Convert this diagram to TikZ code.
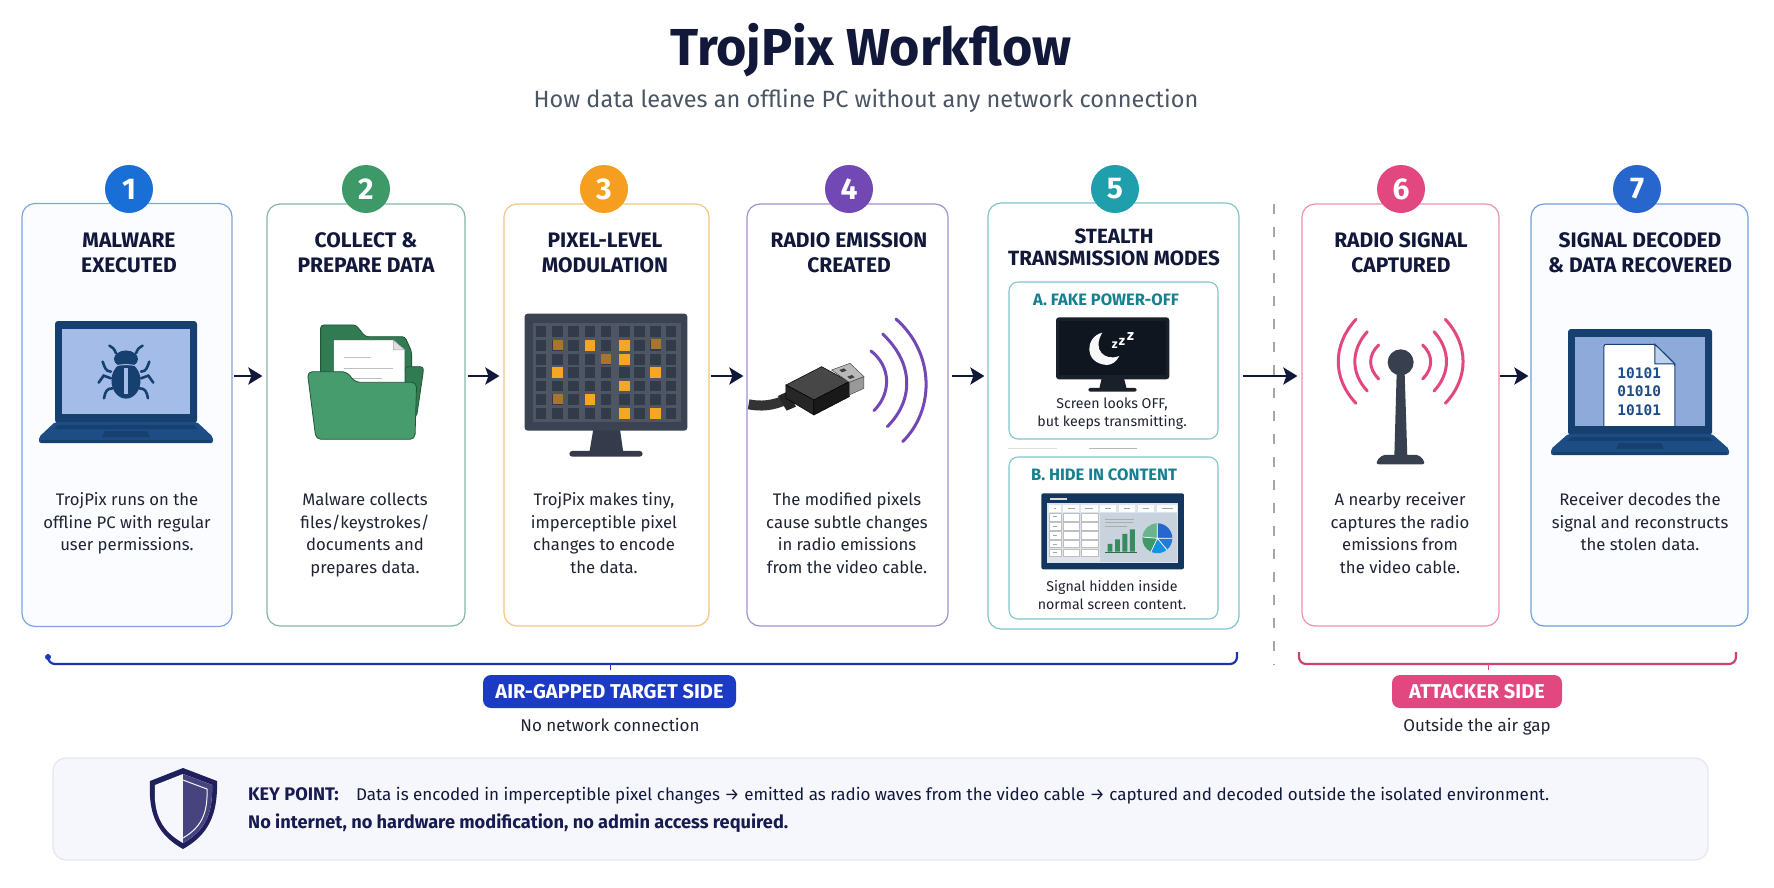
\documentclass[tikz,border=0pt]{standalone}
\usepackage{fontspec}
\usetikzlibrary{arrows.meta,calc}
\setmainfont{Fira Sans}
\newfontfamily\binfont{DejaVu Sans Mono}

\definecolor{ink}{HTML}{12183A}
\definecolor{keyink}{HTML}{171B52}
\definecolor{bodyink}{HTML}{1F2433}
\definecolor{subink}{HTML}{4B5563}
\definecolor{cA}{HTML}{1A6FD6}\definecolor{bA}{HTML}{7FA3DF}
\definecolor{cB}{HTML}{3D9A68}\definecolor{bB}{HTML}{86B8A4}
\definecolor{cC}{HTML}{F59E1F}\definecolor{bC}{HTML}{F6C480}
\definecolor{cD}{HTML}{7248B5}\definecolor{bD}{HTML}{9F90D0}
\definecolor{cE}{HTML}{1F9EAC}\definecolor{bE}{HTML}{7FC6CD}
\definecolor{cF}{HTML}{E2487F}\definecolor{bF}{HTML}{EE91AB}
\definecolor{cG}{HTML}{2766CC}\definecolor{bG}{HTML}{729EE0}
\definecolor{navy}{HTML}{15406F}
\definecolor{basenavy}{HTML}{1E4C85}
\definecolor{screenblue}{HTML}{A3BDE8}
\definecolor{screendeep}{HTML}{8EAADB}
\definecolor{tealhead}{HTML}{15808F}
\definecolor{gapblue}{HTML}{1C3BC4}
\definecolor{slate}{HTML}{3B4252}
\definecolor{gridback}{HTML}{4E5563}
\definecolor{gridcell}{HTML}{323B49}
\definecolor{sleepframe}{HTML}{1A2029}
\definecolor{sleepscreen}{HTML}{10161F}
\definecolor{dashpane}{HTML}{C9D3DD}
\definecolor{dashback}{HTML}{DDE4EC}
\definecolor{shieldouter}{HTML}{1F1F5E}
\definecolor{shieldinner}{HTML}{46437F}
\definecolor{panelfill}{HTML}{F6F7FC}
\definecolor{panelline}{HTML}{E6E7EE}
\definecolor{cardtint}{HTML}{FAFCFF}
\definecolor{folderfront}{HTML}{469C6D}
\definecolor{cellorange}{HTML}{F5A623}
\definecolor{dimorange}{HTML}{A8752F}

\tikzset{
  cardbox/.style={draw=#1,line width=1.2pt,rounded corners=13pt,fill=white},
  numdisc/.style={circle,fill=#1,minimum size=48pt,inner sep=0pt,text=white,
    font=\fontsize{30}{30}\selectfont\bfseries},
  headtext/.style={anchor=north,inner sep=0pt,align=center,text=ink,
    font=\fontsize{21}{25}\selectfont\bfseries},
  headtight/.style={anchor=north,inner sep=0pt,align=center,text=ink,
    font=\fontsize{20.6}{22}\selectfont\bfseries},
  bodytext/.style={anchor=north,inner sep=0pt,align=center,text=bodyink,
    font=\fontsize{16.7}{22.8}\selectfont},
  smalltext/.style={anchor=north,inner sep=0pt,align=center,text=bodyink,
    font=\fontsize{14.2}{17.8}\selectfont},
  modehead/.style={anchor=north,inner sep=0pt,text=tealhead,
    font=\fontsize{16.5}{18}\selectfont\bfseries},
  flowarrow/.style={draw=ink,line width=2.7pt,
    -{Stealth[length=14pt,width=17pt,inset=3pt]}},
  sidebadge/.style={rounded corners=8pt,fill=#1,text=white,inner sep=0pt,
    minimum height=33pt,font=\fontsize{20}{20}\selectfont\bfseries},
  sidenote/.style={anchor=north,inner sep=0pt,text=bodyink,
    font=\fontsize{17}{20}\selectfont},
  panelbox/.style={draw=#1,line width=1.1pt,rounded corners=9pt,fill=white},
}

\newcommand{\R}{\rule{0pt}{14pt}}
\newcommand{\RH}{\rule{0pt}{18pt}}
\newcommand{\keybold}[1]{{\fontsize{18.2}{28}\selectfont\bfseries\color{keyink}#1}}

% Laptop: centre x, lid top, half lid width, lid height, half base width, screen colour
\newcommand{\laptopicon}[6]{%
  \begin{scope}[shift={(#1,#2)}]
    \fill[navy,rounded corners=3pt] (-#3,0) rectangle (#3,#4+1);
    \fill[#6] (-#3+7.3,8) rectangle (#3-7.3,#4-8);
    \fill[basenavy,rounded corners=2pt]
      (-#3,#4) -- (#3,#4) -- (#5,#4+15) -- (#5,#4+21) -- (-#5,#4+21) -- (-#5,#4+15) -- cycle;
    \fill[navy] (-#3+3,#4+3) -- (#3-3,#4+3) -- (#3+1,#4+7) -- (-#3-1,#4+7) -- cycle;
    \fill[navy] (-21,#4+9) -- (21,#4+9) -- (24,#4+15) -- (-24,#4+15) -- cycle;
    \fill[navy] (-#5+2,#4+18) rectangle (#5-2,#4+21);
  \end{scope}}

\begin{document}
\begin{tikzpicture}[x=1pt,y=-1pt]
\useasboundingbox (0,0) rectangle (1774,887);
\fill[white] (0,0) rectangle (1774,887);

% Heading
\node[anchor=base,inner sep=0pt,text=ink,font=\fontsize{52}{52}\selectfont\bfseries] (maintitle) at (871,65) {TrojPix Workflow};
\node[anchor=base,inner sep=0pt,text=subink,font=\fontsize{23.5}{26}\selectfont] (subtitle) at (866,107) {How data leaves an offline PC without any network connection};

% Step cards
\node[cardbox=bA,minimum width=210pt,minimum height=423pt,fill=cardtint] (card1) at (127,415) {};
\node[cardbox=bB,minimum width=198pt,minimum height=422pt] (card2) at (366,415) {};
\node[cardbox=bC,minimum width=205pt,minimum height=422pt] (card3) at (606.5,415) {};
\node[cardbox=bD,minimum width=201pt,minimum height=422pt] (card4) at (847.5,415) {};
\node[cardbox=bE,minimum width=251pt,minimum height=426pt] (card5) at (1113.5,416) {};
\node[cardbox=bF,minimum width=197pt,minimum height=422pt] (card6) at (1400.5,415) {};
\node[cardbox=bG,minimum width=217pt,minimum height=422pt,fill=cardtint] (card7) at (1639.5,415) {};

% Numbered discs
\node[numdisc=cA] (num1) at (129,189) {1};
\node[numdisc=cB] (num2) at (366,189) {2};
\node[numdisc=cC] (num3) at (604,189) {3};
\node[numdisc=cD] (num4) at (849,189) {4};
\node[numdisc=cE] (num5) at (1115,189) {5};
\node[numdisc=cF] (num6) at (1401,189) {6};
\node[numdisc=cG] (num7) at (1637,189) {7};

% Card headings
\node[headtext] (head1) at (129,229) {\RH MALWARE\\EXECUTED};
\node[headtext] (head2) at (366,229) {\RH COLLECT \&\\PREPARE DATA};
\node[headtext] (head3) at (605,229) {\RH PIXEL-LEVEL\\MODULATION};
\node[headtext] (head4) at (849,229) {\RH RADIO EMISSION\\CREATED};
\node[headtight] (head5) at (1114,225) {\RH STEALTH\\TRANSMISSION MODES};
\node[headtext] (head6) at (1401,229) {\RH RADIO SIGNAL\\CAPTURED};
\node[headtext] (head7) at (1640,229) {\RH SIGNAL DECODED\\\& DATA RECOVERED};

% Card descriptions
\node[bodytext] (body1) at (127,491) {\R TrojPix runs on the\\offline PC with regular\\user permissions.};
\node[bodytext] (body2) at (365,491) {\R Malware collects\\files/keystrokes/\\documents and\\prepares data.};
\node[bodytext] (body3) at (604,491) {\R TrojPix makes tiny,\\imperceptible pixel\\changes to encode\\the data.};
\node[bodytext] (body4) at (847,491) {\R The modified pixels\\cause subtle changes\\in radio emissions\\from the video cable.};
\node[bodytext] (body6) at (1400,491) {\R A nearby receiver\\captures the radio\\emissions from\\the video cable.};
\node[bodytext] (body7) at (1640,491) {\R Receiver decodes the\\signal and reconstructs\\the stolen data.};

% Air-gap divider
\coordinate (gaptop) at (1274,204);
\coordinate (gapend) at (1274,665);
\draw[draw=gray!70,line width=1.6pt,dash pattern=on 10pt off 13pt] (gaptop) -- (gapend);

% Flow arrows between the cards
\coordinate (flowline) at (0,376);
\foreach \a/\b/\s/\e in {card1/card2/1/4,card2/card3/2/4,card3/card4/1/3,card4/card5/3/3,card5/card6/3/4,card6/card7/0/2}{
  \draw[flowarrow,shorten <=\s pt,shorten >=\e pt] (\a.east |- flowline) -- (\b.west |- flowline);
}

% Stage 1: laptop with a bug on screen
\laptopicon{126}{321}{71}{101}{87}{screenblue}
\begin{scope}[shift={(0,150)},x=.3333pt,y=-.3333pt]
  \fill[navy] (378,627) ellipse [x radius=12pt,y radius=8.5pt];
  \fill[navy] (378,692) ellipse [x radius=14.5pt,y radius=18pt];
  \draw[screenblue,line width=1pt] (338,650) .. controls (360,642) and (396,642) .. (418,650);
  \fill[screenblue] (373,655) rectangle (384,732);
  \foreach \m in {1,-1}{
    \begin{scope}[shift={(378,0)},xscale=\m]
      \draw[navy,line width=2.6pt,line cap=round,fill=none]
        (-30,610) .. controls (-35,596) and (-42,590) .. (-50,587)
        (-45,665) .. controls (-62,665) and (-64,650) .. (-70,635)
        (-45,685) -- (-67,677) -- (-82,698)
        (-40,715) .. controls (-58,715) and (-62,725) .. (-66,745);
    \end{scope}}
\end{scope}

% Stage 2: open folder holding a sheet
\begin{scope}[shift={(0,150)},x=.3333pt,y=-.3333pt]
  \fill[cB!80!black,draw=cB!55!black,line width=.8pt,rounded corners=3pt]
    (962,700) -- (962,525) -- (1068,525) -- (1096,560) -- (1215,560) -- (1235,605) -- (1235,700) -- cycle;
  \fill[cB!80!black,draw=cB!55!black,line width=.8pt,rounded corners=3pt]
    (1215,650) -- (1270,650) -- (1270,665) -- (1250,800) -- (1215,800) -- cycle;
  \fill[white,draw=cB!50!black,line width=.5pt] (1000,570) -- (1180,570) -- (1215,600) -- (1215,710) -- (1000,710) -- cycle;
  \fill[gray!25,draw=gray!70,line width=.5pt] (1180,570) -- (1180,600) -- (1215,600) -- cycle;
  \draw[gray!50,line width=1.2pt] (1032,622) -- (1112,622) (1032,655) -- (1180,655) (1060,685) -- (1145,685);
  \fill[folderfront,draw=cB!55!black,line width=.8pt,rounded corners=5pt]
    (922,665) -- (1040,665) -- (1066,697) -- (1250,697) -- (1245,868) -- (948,868) -- cycle;
\end{scope}

% Stage 3: monitor with a pixel grid
\begin{scope}[shift={(490,150)},x=.3333pt,y=-.3333pt]
  \fill[slate!90!black] (310,838) -- (390,838) -- (400,908) -- (298,908) -- cycle;
  \fill[slate!90!black,rounded corners=3pt] (238,903) rectangle (458,920);
  \fill[slate,rounded corners=3pt] (104,491) rectangle (592,842);
  \fill[gridback] (130,518) rectangle (572,815);
  \foreach \cx in {153,203,251,300,348,404,449,497,543}{
    \foreach \cy in {544,586,628,668,708,748,790}{
      \fill[gridcell] (\cx-16,\cy-16) rectangle (\cx+16,\cy+16);
    }}
  \foreach \cx/\cy in {300/586,404/586,404/628,203/668,497/668,404/708,300/748,404/790,497/790}{
    \fill[cellorange] (\cx-16,\cy-16) rectangle (\cx+16,\cy+16);
  }
  \foreach \cx/\cy in {203/586,497/582,348/628,203/748}{
    \fill[dimorange] (\cx-15,\cy-15) rectangle (\cx+15,\cy+15);
  }
\end{scope}

% Stage 4: video plug and radiating arcs
\begin{scope}[shift={(490,150)},x=.3333pt,y=-.3333pt]
  \draw[black!80,line width=10pt] (776,763) .. controls (810,770) and (850,768) .. (890,748);
  \fill[black!85] (864,738) -- (892,725) -- (918,770) -- (890,782) -- cycle;
  \fill[black!72,draw=black,line width=.5pt] (888,705) -- (995,650) -- (1078,695) -- (972,750) -- cycle;
  \fill[black!85,draw=black,line width=.5pt] (888,705) -- (972,750) -- (972,795) -- (888,745) -- cycle;
  \fill[black!90,draw=black,line width=.5pt] (972,750) -- (1078,695) -- (1078,740) -- (972,795) -- cycle;
  \fill[gray!55,draw=black!70,line width=.5pt] (1025,660) -- (1080,640) -- (1122,680) -- (1078,697) -- cycle;
  \fill[gray!80,draw=black!70,line width=.5pt] (1078,697) -- (1122,680) -- (1122,715) -- (1078,735) -- cycle;
  \fill[black!75] (1048,660) -- (1062,655) -- (1070,662) -- (1056,667) -- cycle;
  \fill[black!75] (1072,680) -- (1086,675) -- (1094,682) -- (1080,687) -- cycle;
  \draw[cD,line width=3pt,line cap=round]
    (1143,603) .. controls (1204,650) and (1204,730) .. (1152,782)
    (1178,552) .. controls (1272,640) and (1272,750) .. (1192,830)
    (1218,507) .. controls (1335,610) and (1335,780) .. (1238,875);
\end{scope}

% Stage 5: the two transmission modes
\node[panelbox=bE,minimum width=209pt,minimum height=157pt] (modeA) at (1113.5,360.5) {};
\node[panelbox=bE,minimum width=209pt,minimum height=162pt] (modeB) at (1113.5,538) {};
\coordinate (rulea) at (1008,448);
\coordinate (ruleb) at (1057,448);
\coordinate (rulec) at (1089,448);
\coordinate (ruled) at (1137,448);
\draw[gray!25,line width=1pt] (rulea) -- (ruleb);
\draw[gray!55,line width=1pt] (rulec) -- (ruled);
\node[modehead] (headA) at (1106,291) {\R A. FAKE POWER-OFF};
\node[modehead] (headB) at (1104,466) {\R B. HIDE IN CONTENT};
\node[smalltext] (captionA) at (1112,394) {\R Screen looks OFF,\\but keeps transmitting.};
\node[smalltext] (captionB) at (1112,577) {\R Signal hidden inside\\normal screen content.};

\begin{scope}[shift={(970,150)},x=.3333pt,y=-.3333pt]
  % monitor in sleep
  \fill[sleepframe] (395,685) -- (462,685) -- (470,716) -- (388,716) -- cycle;
  \fill[sleepframe,rounded corners=2pt] (355,714) rectangle (500,725);
  \fill[sleepframe,rounded corners=3pt] (258,502) rectangle (598,688);
  \fill[sleepscreen] (268,512) rectangle (588,676);
  \fill[white!94!gray] (397,548) .. controls (345,560) and (340,640) .. (410,645)
     .. controls (425,645) and (440,635) .. (448,618)
     .. controls (405,635) and (365,600) .. (397,548) -- cycle;
  \node[inner sep=0pt,text=white,font=\fontsize{12.5}{13}\selectfont\bfseries] (zzA) at (434,587) {z};
  \node[inner sep=0pt,text=white,font=\fontsize{13.5}{14}\selectfont\bfseries] (zzB) at (456,576) {z};
  \node[inner sep=0pt,text=white,font=\fontsize{15}{15}\selectfont\bfseries] (zzC) at (482,560) {z};
  % dashboard on screen
  \fill[navy!85!black,rounded corners=2pt] (214,1030) rectangle (642,1258);
  \fill[dashback] (232,1060) rectangle (624,1240);
  \fill[white!70!gray] (240,1045) rectangle (292,1049);
  \foreach \xa/\xb in {238/272,280/328,332/384,390/438,447/494,505/552,562/622}{
    \fill[white] (\xa,1064) rectangle (\xb,1085);
    \fill[gray!70] (\xa+14,1073) rectangle (\xb-14,1076);
  }
  \fill[dashpane] (390,1090) rectangle (622,1235);
  \foreach \ya/\yb in {1090/1115,1118/1140,1145/1168,1172/1192,1198/1220}{
    \foreach \xa/\xb in {238/272,280/328,332/384}{
      \fill[white,draw=gray!50,line width=.3pt] (\xa,\ya) rectangle (\xb,\yb);
    }
    \fill[gray!70] (250,\ya+9) rectangle (262,\ya+12);
  }
  \draw[gray!65,line width=.8pt] (405,1108) -- (492,1108) (405,1118) -- (490,1118) (405,1128) -- (470,1128);
  \fill[cB!90!black] (413,1182) rectangle (427,1205)
                     (435,1168) rectangle (450,1205)
                     (457,1152) rectangle (472,1205)
                     (480,1138) rectangle (495,1205);
  \draw[cB!70!black,line width=.8pt] (405,1207) -- (500,1207);
  \fill[cG]          (562,1165) -- (562,1120) arc[start angle=90,end angle=0,radius=15pt] -- cycle;
  \fill[cG!85!cyan]  (562,1165) -- (607,1165) arc[start angle=0,end angle=-50,radius=15pt] -- cycle;
  \fill[cA!75!cyan]  (562,1165) -- ++(-50:15pt) arc[start angle=-50,end angle=-115,radius=15pt] -- cycle;
  \fill[cB]          (562,1165) -- ++(-115:15pt) arc[start angle=-115,end angle=-185,radius=15pt] -- cycle;
  \fill[cB!75!white] (562,1165) -- ++(-185:15pt) arc[start angle=175,end angle=90,radius=15pt] -- cycle;
  \draw[white,line width=.7pt] (562,1120) -- (562,1165) -- (607,1165) (562,1165) -- ++(-50:15pt) (562,1165) -- ++(-115:15pt) (562,1165) -- ++(-185:15pt);
\end{scope}

% Stage 6: receiving antenna
\begin{scope}[shift={(1260,150)},x=.3333pt,y=-.3333pt]
  \fill[slate!95!black,rounded corners=2pt] (350,943) -- (350,932) -- (368,915) -- (476,915) -- (493,932) -- (493,943) -- cycle;
  \fill[slate!95!black] (410,670) -- (434,670) -- (442,920) -- (403,920) -- cycle;
  \fill[slate!95!black] (422,637) circle [radius=13pt];
  \draw[cF,line width=3pt,line cap=round]
    (356,585) .. controls (324,615) and (324,655) .. (356,687)
    (322,545) .. controls (272,600) and (272,670) .. (322,723)
    (288,508) .. controls (217,585) and (217,685) .. (288,760)
    (488,585) .. controls (520,615) and (520,655) .. (488,687)
    (522,545) .. controls (572,600) and (572,670) .. (522,723)
    (556,508) .. controls (627,585) and (627,685) .. (556,760);
\end{scope}

% Stage 7: laptop showing a recovered file
\laptopicon{1640}{329}{72}{105}{89}{screendeep}
\begin{scope}[shift={(1260,150)},x=.3333pt,y=-.3333pt]
  \fill[white,draw=navy,line width=1pt,rounded corners=2pt]
    (1032,828) -- (1032,583) -- (1185,583) -- (1245,642) -- (1245,828);
  \fill[screenblue!70!white,draw=navy,line width=1pt] (1185,583) -- (1185,642) -- (1245,642) -- cycle;
  \node[inner sep=0pt,align=center,text=basenavy,font=\fontsize{14.5}{18.3}\selectfont\binfont\bfseries] (bits) at (1138,725) {10101\\01010\\10101};
\end{scope}

% Side brackets, badges and notes
\coordinate (blueA) at (48,657);
\coordinate (blueB) at (1237,652);
\coordinate (pinkA) at (1299,652);
\coordinate (pinkB) at (1736,652);
\fill[gapblue] (blueA) circle [radius=3pt];
\draw[gapblue!90!black,line width=2.2pt,rounded corners=7pt] (blueA) |- (blueB |- 0,664) -- (blueB);
\draw[cF!90!black,line width=2.2pt,rounded corners=7pt] (pinkA) |- (pinkB |- 0,664) -- (pinkB);
\node[sidebadge=gapblue,minimum width=253pt] (gapbadge) at (609.5,691.5) {AIR-GAPPED TARGET SIDE};
\node[sidebadge=cF,minimum width=170pt] (attackbadge) at (1477,691.5) {ATTACKER SIDE};
\coordinate (gaptick) at (610,664);
\coordinate (attacktick) at (1488,664);
\draw[gapblue,line width=1pt] (gaptick) -- ++(0,6);
\draw[cF,line width=1pt] (attacktick) -- ++(0,6);
\node[sidenote] (gapnote) at (610,717) {\R No network connection};
\node[sidenote] (attacknote) at (1477,717) {\R Outside the air gap};

% Key point panel
\node[draw=panelline,line width=1.2pt,fill=panelfill,rounded corners=13pt,minimum width=1655pt,minimum height=102pt] (keypanel) at (880.5,809) {};
\fill[shieldouter] (183,768) -- (217,781) .. controls (218,815) and (208,835) .. (183,849) .. controls (158,835) and (148,815) .. (150,781) -- cycle;
\fill[panelfill] (183,774) -- (212,785) .. controls (213,815) and (204,831) .. (183,843) .. controls (162,831) and (153,815) .. (155,785) -- cycle;
\fill[shieldinner] (183,774) -- (212,785) .. controls (213,815) and (204,831) .. (183,843) -- cycle;
\draw[panelfill,line width=1pt] (183,780) -- (207,789) .. controls (208,815) and (200,828) .. (183,838);
\node[anchor=north west,inner sep=0pt,text=ink,font=\fontsize{17}{28}\selectfont,align=left] (keytext) at (248,786)
  {\R\keybold{KEY POINT:}\hspace{17.5pt}Data is encoded in imperceptible pixel changes → emitted as radio waves from the video cable → captured and decoded outside the isolated environment.\\\keybold{No internet, no hardware modification, no admin access required.}};
\end{tikzpicture}
\end{document}
